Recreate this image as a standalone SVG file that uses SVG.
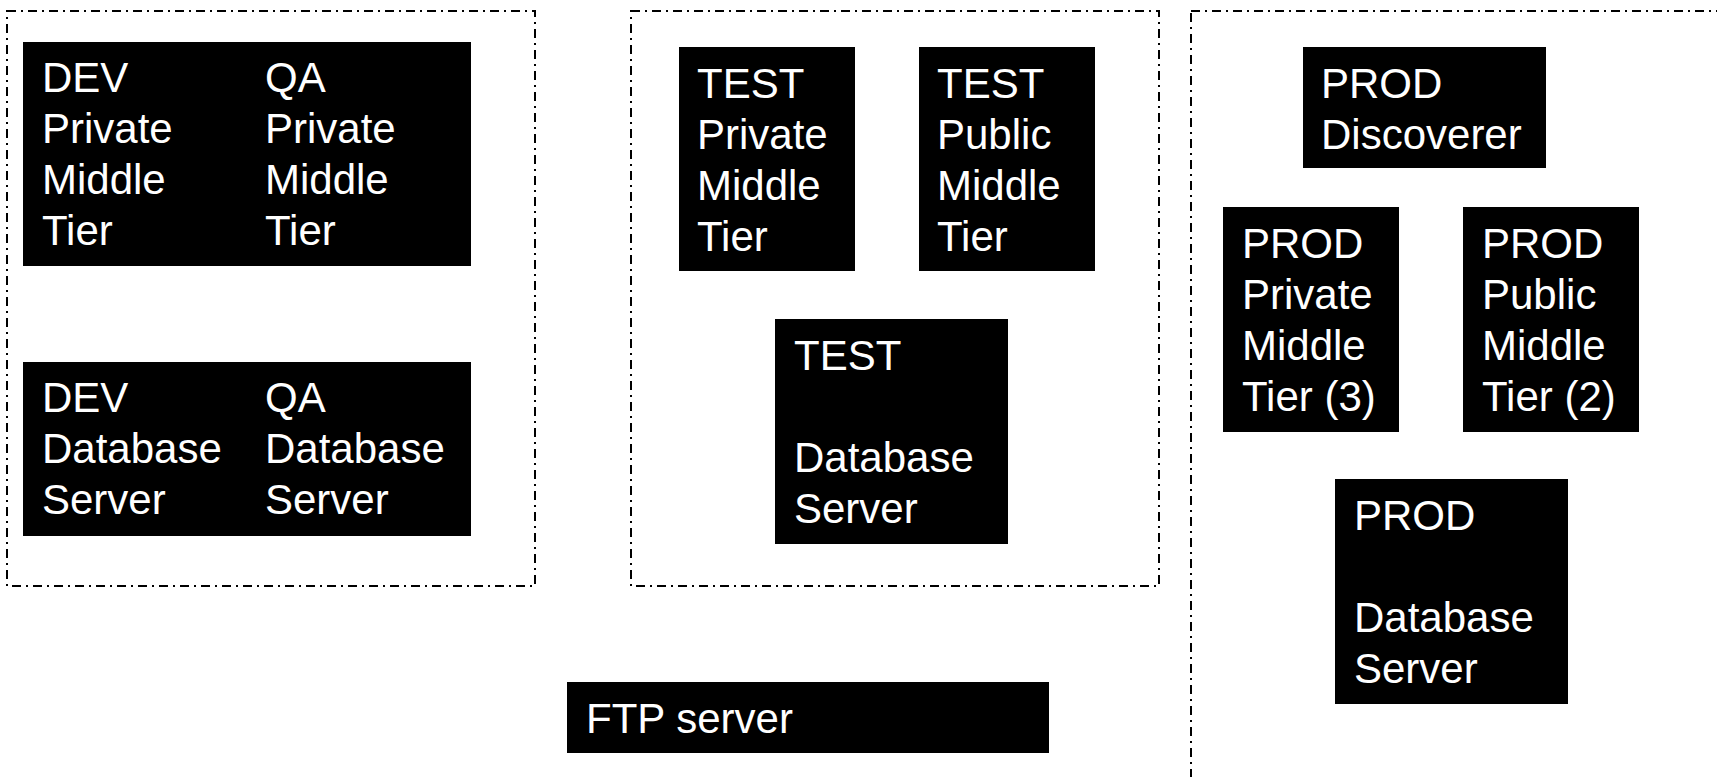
<svg xmlns="http://www.w3.org/2000/svg" width="1717" height="777" viewBox="0 0 1717 777">
<style>
.grp{fill:none;stroke:#000;stroke-width:2;stroke-dasharray:9 5 2 5}
.box{fill:#000}
.t{fill:#fff;font-family:"Liberation Sans",Arial,sans-serif;font-size:42px}
</style>
<rect width="1717" height="777" fill="#fff"/>
<g id="groups">
<rect id="grp-devqa" class="grp" x="7" y="11" width="528" height="575"/>
<rect id="grp-test" class="grp" x="631" y="11" width="528" height="575"/>
<rect id="grp-prod" class="grp" x="1191" y="11" width="560" height="800"/>
</g>
<g id="connectors"></g>
<g id="devqa-mt">
<rect class="box" x="23" y="42" width="448" height="224"/>
<text class="t"><tspan x="42" y="92">DEV</tspan><tspan x="42" y="143">Private</tspan><tspan x="42" y="194">Middle</tspan><tspan x="42" y="245">Tier</tspan></text>
<text class="t"><tspan x="265" y="92">QA</tspan><tspan x="265" y="143">Private</tspan><tspan x="265" y="194">Middle</tspan><tspan x="265" y="245">Tier</tspan></text>
</g>
<g id="devqa-db">
<rect class="box" x="23" y="362" width="448" height="174"/>
<text class="t"><tspan x="42" y="412">DEV</tspan><tspan x="42" y="463">Database</tspan><tspan x="42" y="514">Server</tspan></text>
<text class="t"><tspan x="265" y="412">QA</tspan><tspan x="265" y="463">Database</tspan><tspan x="265" y="514">Server</tspan></text>
</g>
<g id="test-private">
<rect class="box" x="679" y="47" width="176" height="224"/>
<text class="t"><tspan x="697" y="98">TEST</tspan><tspan x="697" y="149">Private</tspan><tspan x="697" y="200">Middle</tspan><tspan x="697" y="251">Tier</tspan></text>
</g>
<g id="test-public">
<rect class="box" x="919" y="47" width="176" height="224"/>
<text class="t"><tspan x="937" y="98">TEST</tspan><tspan x="937" y="149">Public</tspan><tspan x="937" y="200">Middle</tspan><tspan x="937" y="251">Tier</tspan></text>
</g>
<g id="test-db">
<rect class="box" x="775" y="319" width="233" height="225"/>
<text class="t"><tspan x="794" y="370">TEST</tspan><tspan x="794" y="472">Database</tspan><tspan x="794" y="523">Server</tspan></text>
</g>
<g id="prod-discoverer">
<rect class="box" x="1303" y="47" width="243" height="121"/>
<text class="t"><tspan x="1321" y="98">PROD</tspan><tspan x="1321" y="149">Discoverer</tspan></text>
</g>
<g id="prod-private">
<rect class="box" x="1223" y="207" width="176" height="225"/>
<text class="t"><tspan x="1242" y="258">PROD</tspan><tspan x="1242" y="309">Private</tspan><tspan x="1242" y="360">Middle</tspan><tspan x="1242" y="411">Tier (3)</tspan></text>
</g>
<g id="prod-public">
<rect class="box" x="1463" y="207" width="176" height="225"/>
<text class="t"><tspan x="1482" y="258">PROD</tspan><tspan x="1482" y="309">Public</tspan><tspan x="1482" y="360">Middle</tspan><tspan x="1482" y="411">Tier (2)</tspan></text>
</g>
<g id="prod-db">
<rect class="box" x="1335" y="479" width="233" height="225"/>
<text class="t"><tspan x="1354" y="530">PROD</tspan><tspan x="1354" y="632">Database</tspan><tspan x="1354" y="683">Server</tspan></text>
</g>
<g id="ftp">
<rect class="box" x="567" y="682" width="482" height="71"/>
<text class="t" x="586" y="733">FTP server</text>
</g>
</svg>
